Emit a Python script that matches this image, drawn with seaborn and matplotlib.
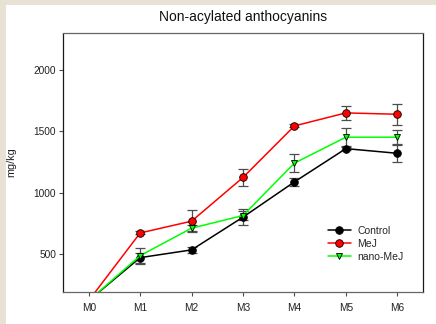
import numpy as np
import pandas as pd
import matplotlib
matplotlib.use("Agg")
import matplotlib.pyplot as plt
from matplotlib.patches import Rectangle
import seaborn as sns

categories = ["M0", "M1", "M2", "M3", "M4", "M5", "M6"]
control = [120, 470, 533, 800, 1087, 1358, 1320]
control_err = [0, 40, 25, 68, 34, 15, 72]
mej = [120, 671, 767, 1123, 1543, 1649, 1638]
mej_err = [0, 12, 92, 68, 12, 54, 84]
nano = [120, 486, 710, 813, 1240, 1451, 1451]
nano_err = [0, 66, 25, 35, 76, 75, 60]

series_names = ["Control", "MeJ", "nano-MeJ"]
series_vals = [control, mej, nano]
series_errs = [control_err, mej_err, nano_err]
colors = {"Control": "#000000", "MeJ": "#ff0000", "nano-MeJ": "#00ff00"}
markers = {"Control": "o", "MeJ": "o", "nano-MeJ": "v"}

x = np.arange(len(categories))
df = pd.concat([
    pd.DataFrame({"x": x, "value": v, "series": n})
    for n, v in zip(series_names, series_vals)
], ignore_index=True)

sns.set_style("white")
plt.rcParams["font.family"] = ["Liberation Sans", "DejaVu Sans"]

fig = plt.figure(figsize=(4.36, 3.24), dpi=100)
fig.patch.set_facecolor("#e8e2d4")
fig.patches.append(Rectangle((6 / 436, 0), 1, 1 - 5 / 324, transform=fig.transFigure,
                             facecolor="white", edgecolor="none", zorder=-10))
ax = fig.add_axes([63 / 436, 32 / 324, 360 / 436, 259 / 324])
ax.set_facecolor("white")

for n, v, e in zip(series_names, series_vals, series_errs):
    ax.errorbar(x, v, yerr=e, fmt="none", ecolor="0.3", elinewidth=0.9,
                capsize=3.5, capthick=0.9, zorder=2)

sns.lineplot(data=df, x="x", y="value", hue="series", style="series",
             palette=colors, markers=markers, dashes=False, ax=ax,
             linewidth=1.1, markersize=5.5, markeredgecolor="black",
             markeredgewidth=0.6, zorder=3)
for ln in ax.lines:
    if ln.get_marker() == "v":
        ln.set_markersize(4.8)

ax.set_xlim(-0.5, 6.5)
ax.set_ylim(190, 2300)
ax.set_xticks(x)
ax.set_xticklabels(categories)
ax.set_yticks([500, 1000, 1500, 2000])
ax.tick_params(axis="both", labelsize=7.3, colors="0.3", labelcolor="#222222",
               direction="out", length=3, width=0.8, bottom=True, left=True)
ax.tick_params(axis="x", pad=5)
ax.tick_params(axis="y", pad=2)
ax.set_xlabel("")
ax.set_ylabel("mg/kg", fontsize=7.8, color="#222222")
ax.yaxis.set_label_coords(-0.13, 0.5)
ax.set_title("Non-acylated anthocyanins", fontsize=10, color="#111111", pad=8.5)

for s in ["top", "bottom"]:
    ax.spines[s].set_color("0.4")
    ax.spines[s].set_linewidth(0.9)
for s in ["left", "right"]:
    ax.spines[s].set_color("0.1")
    ax.spines[s].set_linewidth(0.9)
    ax.spines[s].set_linestyle((0, (1, 1)))

leg = ax.legend(loc="center left", bbox_to_anchor=(0.736, 0.186), frameon=False,
                fontsize=7.5, handlelength=2.2, handletextpad=0.6,
                labelspacing=0.3, borderpad=0, borderaxespad=0, title=None)
for h in leg.legend_handles:
    if h.get_marker() == "v":
        h.set_markersize(4.8)

fig.savefig("out.png", dpi=100, facecolor=fig.get_facecolor())
